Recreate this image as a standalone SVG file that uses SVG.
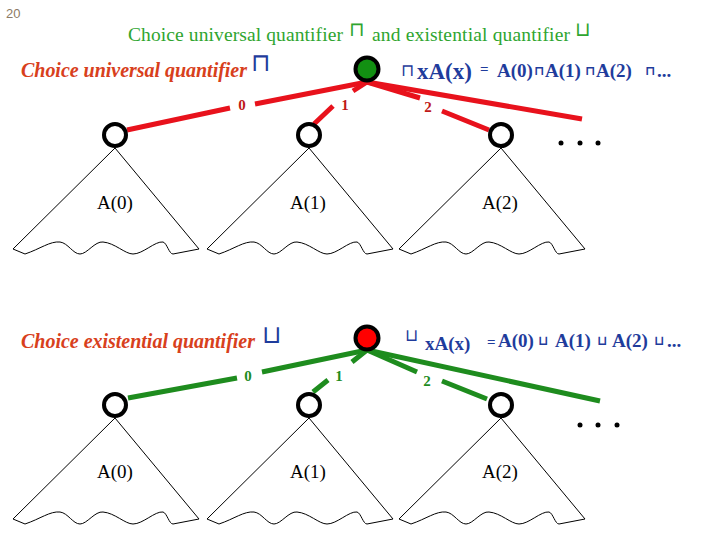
<svg xmlns="http://www.w3.org/2000/svg" width="720" height="540" viewBox="0 0 720 540">
<style>
.num{font-family:"Liberation Sans",Arial,sans-serif;font-size:13px;fill:#8c7a64}
.title{font-family:"Liberation Serif","Times New Roman",serif;font-size:19.5px;fill:#2fa52f}
.head{font-family:"Liberation Serif","Times New Roman",serif;font-size:20px;font-weight:bold;font-style:italic;fill:#d8401c}
.eq{font-family:"Liberation Serif","Times New Roman",serif;font-weight:bold;fill:#1f3c9c}
.sym{font-family:"DejaVu Sans ExtraLight","DejaVu Sans",sans-serif;font-weight:200;font-style:normal}
.lbl{font-family:"Liberation Serif","Times New Roman",serif;font-size:15px;font-weight:bold;text-anchor:middle}
.tri{fill:none;stroke:#000;stroke-width:1}
.tlabel{font-family:"Liberation Serif","Times New Roman",serif;font-size:19px;text-anchor:middle;fill:#000}
.node{fill:#fff;stroke:#000;stroke-width:4}
.red{stroke:#e8121c;stroke-width:5;fill:none}
.grn{stroke:#1e8c1e;stroke-width:5;fill:none}
</style>
<defs>
<g id="tree">
<path class="tri" d="M0,13 L-102,114 M0,13 L84,114 M-102,114 L-90,119 C-75,114 -65,106 -55,107 C-47,108 -42,119 -35,119 C-28,119 -20,106 -12,107 C0,108 10,119 18,119 C28,119 40,106 48,107 C52,108 54,119 58,119 L84,114"/>
<circle class="node" cx="0" cy="0" r="11"/>
</g>
</defs>
<rect width="720" height="540" fill="#fff"/>
<text class="num" x="6" y="18">20</text>
<g id="title">
<text class="title" x="128" y="41" textLength="215">Choice universal quantifier</text>
<text class="title sym" x="349" y="36" font-size="22">⊓</text>
<text class="title" x="372" y="41" textLength="198">and existential quantifier</text>
<text class="title sym" x="575" y="36" font-size="22">⊔</text>
</g>
<g id="heading-universal">
<text class="head" x="21" y="77" textLength="226">Choice universal quantifier</text>
<text class="eq sym" x="251" y="71" font-size="25">⊓</text>
</g>
<g id="formula-universal">
<text class="eq sym" x="401" y="76" font-size="17">⊓</text>
<text class="eq" x="417" y="79" font-size="23">xA(x)</text>
<text class="eq" x="480" y="74" font-size="15">=</text>
<text class="eq" x="497" y="77" font-size="19">A(0)</text>
<text class="eq sym" x="534" y="75" font-size="13" style="font-weight:bold">⊓</text>
<text class="eq" x="545" y="77" font-size="19">A(1)</text>
<text class="eq sym" x="585" y="75" font-size="13" style="font-weight:bold">⊓</text>
<text class="eq" x="596" y="77" font-size="19">A(2)</text>
<text class="eq sym" x="645" y="75" font-size="13" style="font-weight:bold">⊓</text>
<text class="eq" x="657" y="77" font-size="19">...</text>
</g>
<g id="heading-existential">
<text class="head" x="21" y="348" textLength="234">Choice existential quantifier</text>
<text class="eq sym" x="262" y="343" font-size="25">⊔</text>
</g>
<g id="formula-existential">
<text class="eq sym" x="405" y="341" font-size="17">⊔</text>
<text class="eq" x="425" y="350" font-size="19">xA(x)</text>
<text class="eq" x="487" y="347" font-size="15">=</text>
<text class="eq" x="498" y="347" font-size="19">A(0)</text>
<text class="eq sym" x="538" y="345" font-size="13" style="font-weight:bold">⊔</text>
<text class="eq" x="555" y="347" font-size="19">A(1)</text>
<text class="eq sym" x="597" y="345" font-size="13" style="font-weight:bold">⊔</text>
<text class="eq" x="612" y="347" font-size="19">A(2)</text>
<text class="eq sym" x="654" y="345" font-size="13" style="font-weight:bold">⊔</text>
<text class="eq" x="667" y="347" font-size="19">...</text>
</g>
<g id="connectors">
<path class="red" d="M127,130 L230,108 M255,104 L367,82"/>
<path class="red" d="M314,124 L333,106 M353,91 L367,82"/>
<path class="red" d="M367,82 L420,98 M442,111 L489,130"/>
<path class="red" d="M367,82 L582,119"/>
<text class="lbl" x="242" y="110" fill="#c01818">0</text>
<text class="lbl" x="345" y="110" fill="#c01818">1</text>
<text class="lbl" x="428" y="112" fill="#c01818">2</text>
<path class="grn" d="M128,398 L237,378 M262,372 L367,350"/>
<path class="grn" d="M313,392 L328,380 M352,362 L367,350"/>
<path class="grn" d="M367,350 L417,372 M442,381 L487,399"/>
<path class="grn" d="M367,350 L600,401"/>
<text class="lbl" x="248" y="381" fill="#1e8c1e">0</text>
<text class="lbl" x="339" y="381" fill="#1e8c1e">1</text>
<text class="lbl" x="427" y="386" fill="#1e8c1e">2</text>
</g>
<g id="root-universal"><circle cx="367" cy="69" r="11.5" fill="#129012" stroke="#000" stroke-width="4"/></g>
<g id="root-existential"><circle cx="367" cy="338" r="11.5" fill="#ff0000" stroke="#000" stroke-width="4"/></g>
<g id="u-node-0"><use href="#tree" x="115" y="135"/><text class="tlabel" x="115" y="209">A(0)</text></g>
<g id="u-node-1"><use href="#tree" x="309" y="135"/><text class="tlabel" x="308" y="209">A(1)</text></g>
<g id="u-node-2"><use href="#tree" x="501" y="135"/><text class="tlabel" x="500" y="209">A(2)</text></g>
<g id="u-more"><circle cx="561" cy="143" r="2.5"/><circle cx="580" cy="143" r="2.5"/><circle cx="598" cy="143" r="2.5"/></g>
<g id="e-node-0"><use href="#tree" x="115" y="405"/><text class="tlabel" x="115" y="478">A(0)</text></g>
<g id="e-node-1"><use href="#tree" x="309" y="405"/><text class="tlabel" x="308" y="478">A(1)</text></g>
<g id="e-node-2"><use href="#tree" x="501" y="405"/><text class="tlabel" x="500" y="478">A(2)</text></g>
<g id="e-more"><circle cx="580" cy="425" r="2.5"/><circle cx="598" cy="425" r="2.5"/><circle cx="617" cy="425" r="2.5"/></g>
</svg>
